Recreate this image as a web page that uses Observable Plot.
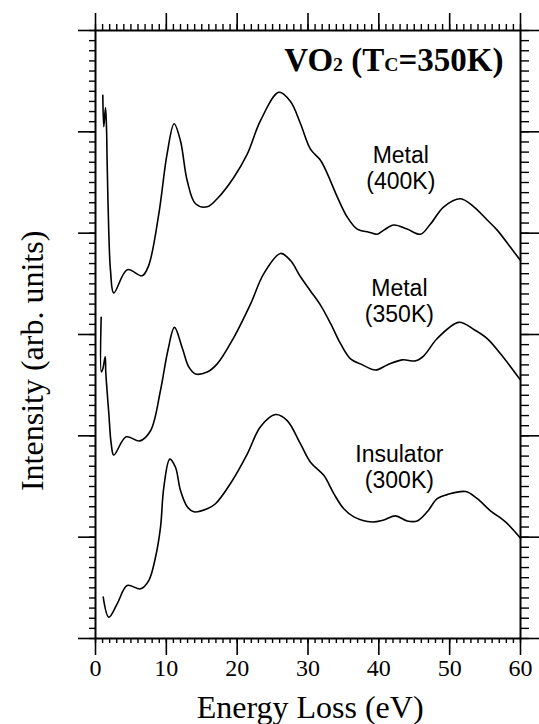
<!DOCTYPE html>
<html>
<head>
<meta charset="utf-8">
<script src="https://cdn.jsdelivr.net/npm/d3@7"></script>
<script src="https://cdn.jsdelivr.net/npm/@observablehq/plot@0.6"></script>
<style>
html, body { margin: 0; padding: 0; background: #fff; }
#chart svg { display: block; }
</style>
</head>
<body>
<div id="chart"></div>
<script>
// ---- Data (Energy Loss in eV, Intensity in arb. units) ----
const energy400 = [1.03, 1.17, 1.41, 1.55, 1.65, 1.88, 2.12, 2.58, 4.48, 6.59, 7.5, 8.94, 10.1, 11.1, 12.0, 12.94, 14.12, 15.77, 17.18, 19.52, 21.42, 23.29, 25.88, 27.53, 28.94, 30.35, 31.76, 32.71, 34.12, 35.53, 36.95, 38.59, 39.77, 40.7, 42.11, 44.0, 45.88, 47.29, 49.17, 51.53, 53.41, 55.3, 56.71, 58.59, 60.0];
const intensity400 = [53.6, 50.5, 52.4, 50.5, 46.8, 40.0, 36.3, 34.1, 36.4, 35.8, 36.8, 41.9, 47.8, 50.8, 49.1, 45.2, 42.9, 42.6, 43.4, 45.5, 47.8, 51.1, 53.9, 53.0, 50.8, 48.3, 47.2, 45.9, 43.6, 41.6, 40.4, 40.1, 39.9, 40.3, 40.8, 40.4, 39.9, 40.9, 42.6, 43.4, 42.6, 41.3, 40.3, 38.6, 37.3];

const energy350 = [0.80, 0.83, 1.03, 1.37, 1.45, 1.88, 2.22, 2.58, 4.33, 6.25, 7.77, 9.18, 10.21, 11.15, 12.24, 13.17, 14.12, 15.77, 17.18, 19.52, 21.88, 23.76, 26.12, 27.53, 28.94, 30.35, 31.76, 33.18, 34.59, 36.0, 37.41, 39.53, 41.18, 43.3, 45.18, 46.35, 48.24, 51.29, 53.41, 55.3, 57.18, 60.0];
const intensity350 = [31.7, 26.3, 26.6, 27.8, 26.3, 22.2, 19.2, 18.1, 19.9, 19.5, 20.5, 24.5, 28.4, 30.7, 28.7, 26.8, 26.1, 26.3, 27.1, 29.7, 33.0, 36.0, 38.0, 37.3, 35.7, 34.3, 32.9, 31.1, 29.1, 27.6, 27.1, 26.5, 27.0, 27.5, 27.4, 27.9, 29.6, 31.2, 30.5, 29.6, 28.1, 25.5];

const energy300 = [1.09, 1.88, 3.06, 4.48, 6.35, 7.52, 8.47, 9.18, 9.64, 10.49, 11.29, 12.0, 12.95, 13.88, 15.77, 16.94, 19.06, 21.42, 23.29, 25.41, 27.06, 28.94, 30.35, 32.23, 33.64, 35.05, 36.47, 39.06, 40.7, 42.35, 44.0, 45.42, 46.83, 48.24, 49.65, 52.24, 53.89, 55.76, 57.88, 60.0];
const intensity300 = [4.08, 2.10, 3.42, 5.23, 4.90, 5.72, 8.02, 11.0, 14.9, 17.7, 16.9, 14.6, 13.0, 12.5, 12.8, 13.3, 15.3, 18.2, 20.9, 22.1, 21.5, 19.2, 17.4, 16.1, 14.3, 12.8, 12.0, 11.5, 11.7, 12.1, 11.6, 11.6, 12.5, 13.8, 14.2, 14.5, 13.8, 12.6, 11.5, 9.9];

const seriesNames = ["Metal (400K)", "Metal (350K)", "Insulator (300K)"];
const seriesLabels = ["Metal\n(400K)", "Metal\n(350K)", "Insulator\n(300K)"];

const xMajorTicks = [0, 10, 20, 30, 40, 50, 60];
const xMinorTicks = [0,1,2,3,4,5,6,7,8,9,10,11,12,13,14,15,16,17,18,19,20,21,22,23,24,25,26,27,28,29,30,31,32,33,34,35,36,37,38,39,40,41,42,43,44,45,46,47,48,49,50,51,52,53,54,55,56,57,58,59,60];
const yMajorTicks = [0, 10, 20, 30, 40, 50, 60];
const yMinorTicks = xMinorTicks;

const titleText = "VO2 (TC=350K)";
const xTitle = "Energy Loss (eV)";
const yTitle = "Intensity (arb. units)";

// ---- Build table ----
const curves = [
  {name: seriesNames[0], e: energy400, v: intensity400},
  {name: seriesNames[1], e: energy350, v: intensity350},
  {name: seriesNames[2], e: energy300, v: intensity300}
];
const rows = curves.flatMap(c => c.e.map((e, k) => ({series: c.name, energy: e, intensity: c.v[k]})));

const serif = "'Liberation Serif', 'Times New Roman', Times, serif";
const sans = "'Liberation Sans', Arial, Helvetica, sans-serif";

const chart = Plot.plot({
  width: 539,
  height: 724,
  marginLeft: 95,
  marginRight: 19,
  marginTop: 30,
  marginBottom: 86,
  style: {background: "#fff", color: "#000", overflow: "visible"},
  x: {domain: [0, 60]},
  y: {domain: [0, 60]},
  marks: [
    Plot.axisX({anchor: "bottom", ticks: xMinorTicks, tickSize: 5, strokeWidth: 1.4, fill: "none"}),
    Plot.axisX({anchor: "bottom", ticks: xMajorTicks, tickSize: 17, tickPadding: 3, strokeWidth: 1.6, fontSize: 24, fontFamily: serif, label: null}),
    Plot.axisX({anchor: "top", ticks: xMinorTicks, tickSize: 7, strokeWidth: 1.4, fill: "none"}),
    Plot.axisX({anchor: "top", ticks: xMajorTicks, tickSize: 18, strokeWidth: 1.6, fill: "none"}),
    Plot.axisY({anchor: "left", ticks: yMinorTicks, tickSize: 6, strokeWidth: 1.4, fill: "none"}),
    Plot.axisY({anchor: "left", ticks: yMajorTicks, tickSize: 17, strokeWidth: 1.6, fill: "none"}),
    Plot.axisY({anchor: "right", ticks: yMinorTicks, tickSize: 8, strokeWidth: 1.4, fill: "none"}),
    Plot.axisY({anchor: "right", ticks: yMajorTicks, tickSize: 18, strokeWidth: 1.6, fill: "none"}),
    Plot.frame({stroke: "#000", strokeWidth: 2}),
    Plot.line(rows, {x: "energy", y: "intensity", z: "series", stroke: "#000", strokeWidth: 1.6, curve: "catmull-rom"}),
    Plot.text([seriesLabels[0]], {x: 43.1, y: 44.4, text: d => d, lineAnchor: "bottom", lineHeight: 1.13, fontSize: 23, fontFamily: sans, fill: "#000"}),
    Plot.text([seriesLabels[1]], {x: 42.9, y: 31.2, text: d => d, lineAnchor: "bottom", lineHeight: 1.13, fontSize: 23, fontFamily: sans, fill: "#000"}),
    Plot.text([seriesLabels[2]], {x: 42.9, y: 14.9, text: d => d, lineAnchor: "bottom", lineHeight: 1.13, fontSize: 23, fontFamily: sans, fill: "#000"}),
    Plot.text([titleText], {x: 57.6, y: 56.05, text: d => d, textAnchor: "end", lineAnchor: "bottom", fontSize: 33, fontWeight: "bold", fontFamily: serif, fill: "#000"}),
    Plot.text([xTitle], {x: 30.3, y: -7.8, text: d => d, lineAnchor: "bottom", fontSize: 32, fontFamily: serif, fill: "#000"}),
    Plot.text([yTitle], {x: -7.4, y: 27.4, text: d => d, rotate: -90, lineAnchor: "bottom", fontSize: 32, fontFamily: serif, fill: "#000"})
  ]
});

// Render subscripts in the title as real text tspans
d3.select(chart).selectAll("text").filter(function() { return this.textContent === titleText; }).each(function() {
  const t = d3.select(this);
  t.text(null);
  t.append("tspan").text("VO");
  t.append("tspan").attr("font-size", "0.6em").text("2");
  t.append("tspan").text(" (T");
  t.append("tspan").attr("font-size", "0.6em").text("C");
  t.append("tspan").text("=350K)");
});

document.getElementById("chart").appendChild(chart);
</script>
</body>
</html>
